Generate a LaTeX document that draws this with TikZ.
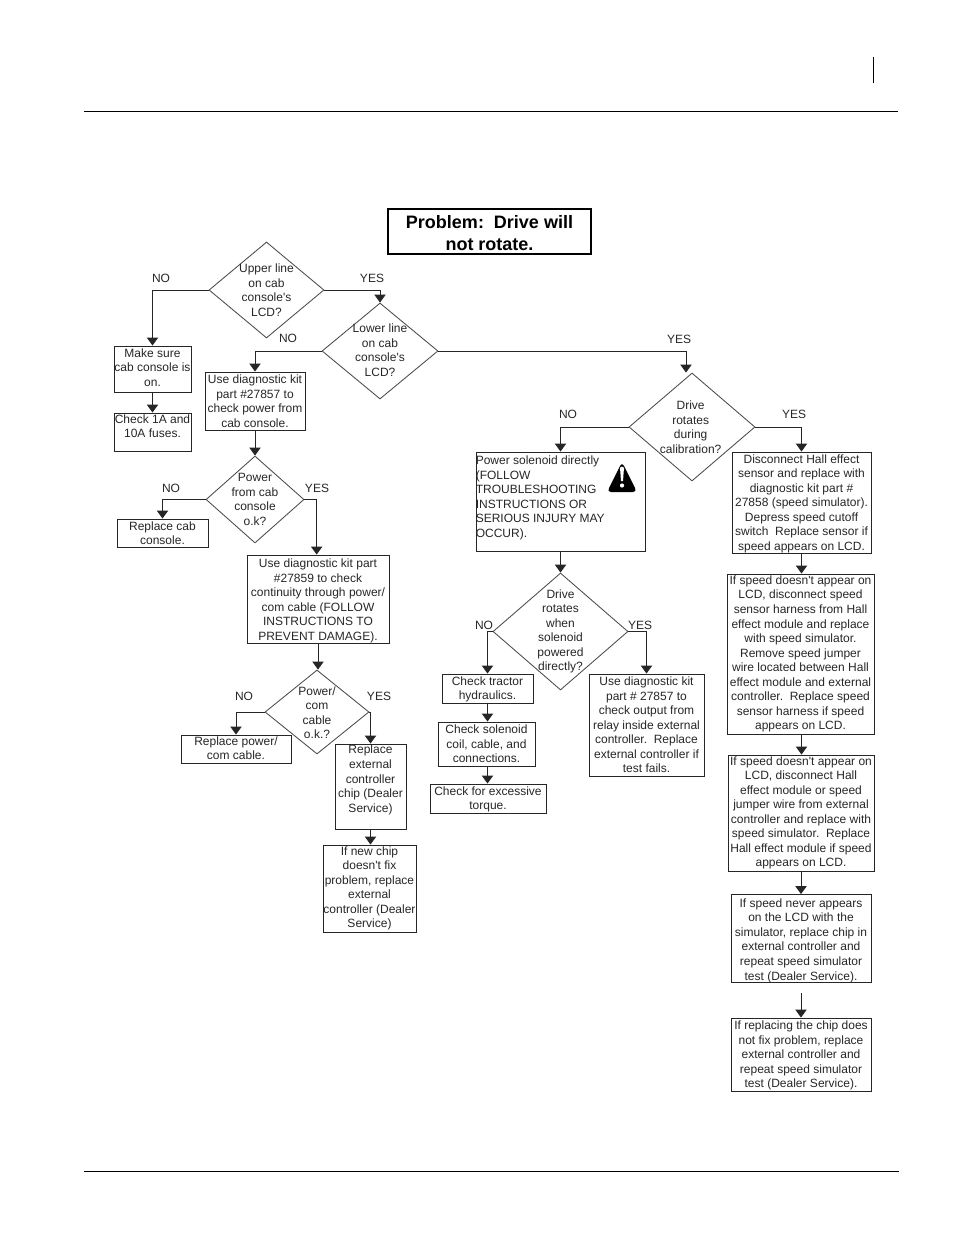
\documentclass[tikz,border=0pt]{standalone}
\usepackage{fontspec}
\defaultfontfeatures[\rmfamily]{}
\setmainfont{Liberation Sans}
\usetikzlibrary{shapes.geometric, arrows.meta}

\begin{document}
\begin{tikzpicture}[
    x=0.75pt, y=-0.75pt,
    txt/.style={font=\fontsize{9}{10.9}\selectfont, align=center, inner sep=0pt, text=black!85},
    size/.style 2 args={minimum width=#1*0.75pt, minimum height=#2*0.75pt},
    block/.style={rectangle, draw=black!85, line width=0.7pt, inner sep=0pt, txt},
    decision/.style={diamond, draw=black!70, line width=0.65pt, inner sep=0pt},
    answer/.style={txt},
    down/.style={execute at begin node={\rule{0pt}{#1pt}}},
    up/.style={execute at end node={\rule[-#1pt]{0pt}{#1pt}}},
    arrow/.style={-{Triangle[width=8.5pt,length=6pt]}, draw=black!85, line width=0.75pt}
]
    \useasboundingbox (0,0) rectangle (954,1235);

    % Page rules
    \coordinate (headl) at (84,111);
    \coordinate (headr) at (898,111);
    \coordinate (footl) at (84,1171);
    \coordinate (footr) at (899,1171);
    \coordinate (tickt) at (873,57);
    \coordinate (tickb) at (873,83);
    \draw[line width=0.7pt] (headl) -- (headr);
    \draw[line width=0.7pt] (footl) -- (footr);
    \draw[line width=0.7pt] (tickt) -- (tickb);

    % Title
    \node[rectangle, draw, line width=2.2pt, size={203}{45}, align=center, inner sep=0pt, down=28,
          font=\fontsize{13.5}{16.2}\selectfont\bfseries] (title) at (489.5,231.5) {Problem:\ \ Drive will\\not rotate.};

    % Left branch
    \node[decision, size={115}{96}, label={[txt]center:Upper line\\on cab\\console's\\LCD?}] (upper) at (266.5,290) {};
    \node[decision, size={116}{96}, label={[txt, yshift=0.5pt]center:Lower line\\on cab\\console's\\LCD?}] (lower) at (380,351) {};
    \node[block, size={77}{46}, up=2.3] (sure) at (152.5,369) {Make sure\\cab console is\\on.};
    \node[block, size={77}{38}, label={[txt, anchor=north, yshift=-1.2pt]north:Check 1A and\\10A fuses.}] (fuses) at (152.5,432) {};
    \node[block, size={100}{58}] (kit_cab) at (255,401) {Use diagnostic kit\\part \#27857 to\\check power from\\cab console.};
    \node[decision, size={98}{87}, label={[txt]center:Power\\from cab\\console\\o.k?}] (power_cab) at (255,499.5) {};
    \node[block, size={91}{28}] (replace_cab) at (162.5,533) {Replace cab\\console.};
    \node[block, size={142}{86}, down=64.1] (kit_cable) at (318,599) {Use diagnostic kit part\\\#27859 to check\\continuity through power/\\com cable (FOLLOW\\INSTRUCTIONS TO\\PREVENT DAMAGE).};
    \node[decision, size={104}{84}, label={[txt, yshift=-0.5pt]center:Power/\\com\\cable\\o.k.?}] (power_com) at (317,712) {};
    \node[block, size={110}{28}, up=1.5] (replace_cable) at (236,749) {Replace power/\\com cable.};
    \node[block, size={71}{85}, up=11.7] (chip) at (370.5,786.5) {Replace\\external\\controller\\chip (Dealer\\Service)};
    \node[block, size={93}{87}] (new_chip) at (369.5,888.5) {If new chip\\doesn't fix\\problem, replace\\external\\controller (Dealer\\Service)};

    % Middle branch
    \node[decision, size={126}{108}, label={[txt, xshift=-1pt]center:Drive\\rotates\\during\\calibration?}] (calib) at (692,427) {};
    \node[block, size={169}{99}, label={[txt, anchor=north west, align=left, yshift=-3pt]north west:Power solenoid directly\\(FOLLOW\\TROUBLESHOOTING\\INSTRUCTIONS OR\\SERIOUS INJURY MAY\\OCCUR).}] (solenoid) at (560.5,501.5) {};
    \node[decision, size={135}{117}, label={[txt]center:Drive\\rotates\\when\\solenoid\\powered\\directly?}] (powered) at (560.5,631.5) {};
    \node[block, size={91}{29}, down=19] (tractor) at (487.5,688.5) {Check tractor\\hydraulics.};
    \node[block, size={97}{44}] (coil) at (486.5,744) {Check solenoid\\coil, cable, and\\connections.};
    \node[block, size={116}{29}, down=19] (torque) at (488,798.5) {Check for excessive\\torque.};
    \node[block, size={115}{102}] (relay) at (646.5,725) {Use diagnostic kit\\part \# 27857 to\\check output from\\relay inside external\\controller.\ \ Replace\\external controller if\\test fails.};

    % Warning sign
    \fill[black, rounded corners=3pt] (622,462) -- (637,492) -- (607,492) -- cycle;
    \fill[white] (622,469) ellipse (2.2 and 2.4);
    \fill[white] (620.1,469) -- (623.9,469) -- (623,481) -- (621,481) -- cycle;
    \fill[white] (622,485.5) circle (2.1);

    % Right branch
    \node[block, size={139}{101}, down=73.5] (hall) at (801.5,502.5) {Disconnect Hall effect\\sensor and replace with\\diagnostic kit part \#\\27858 (speed simulator).\\Depress speed cutoff\\switch\ \ Replace sensor if\\speed appears on LCD.};
    \node[block, size={147}{160}] (harness) at (800.5,654) {If speed doesn't appear on\\LCD, disconnect speed\\sensor harness from Hall\\effect module and replace\\with speed simulator.\\Remove speed jumper\\wire located between Hall\\effect module and external\\controller.\ \ Replace speed\\sensor harness if speed\\appears on LCD.};
    \node[block, size={146}{116}] (module) at (801,813) {If speed doesn't appear on\\LCD, disconnect Hall\\effect module or speed\\jumper wire from external\\controller and replace with\\speed simulator.\ \ Replace\\Hall effect module if speed\\appears on LCD.};
    \node[block, size={140}{87}, down=64.1] (never) at (801,938.5) {If speed never appears\\on the LCD with the\\simulator, replace chip in\\external controller and\\repeat speed simulator\\test (Dealer Service).};
    \node[block, size={140}{73}, down=51.7] (last) at (801,1054.5) {If replacing the chip does\\not fix problem, replace\\external controller and\\repeat speed simulator\\test (Dealer Service).};
    \coordinate (gap) at (801,993);

    % Answers
    \node[answer] (no_upper) at (161,278) {NO};
    \node[answer] (yes_upper) at (372,278) {YES};
    \node[answer] (no_lower) at (288,338) {NO};
    \node[answer] (yes_lower) at (679,339) {YES};
    \node[answer] (no_cab) at (171,488) {NO};
    \node[answer] (yes_cab) at (317,488) {YES};
    \node[answer] (no_com) at (244,696) {NO};
    \node[answer] (yes_com) at (379,696) {YES};
    \node[answer] (no_calib) at (568,414) {NO};
    \node[answer] (yes_calib) at (794,414) {YES};
    \node[answer] (no_powered) at (484,625) {NO};
    \node[answer] (yes_powered) at (640,625) {YES};

    % Arrows
    \draw[arrow] (upper.west) -| (sure.north);
    \draw[arrow] (upper.east) -| (lower.north);
    \draw[arrow] (sure) -- (fuses);
    \draw[arrow] (lower.west) -| (kit_cab.north);
    \draw[arrow] (lower.east) -| ([xshift=-4.5pt]calib.north);
    \draw[arrow] (kit_cab) -- (power_cab);
    \draw[arrow] (power_cab.west) -| (replace_cab.north);
    \draw[arrow] (power_cab.east) -| ([xshift=-1pt]kit_cable.north);
    \draw[arrow] (kit_cable) -- (kit_cable |- power_com.north);
    \draw[arrow] (power_com.west) -| (replace_cable.north);
    \draw[arrow] (power_com.east) -| (chip.north);
    \draw[arrow] (chip.south) -- (chip.south |- new_chip.north);
    \draw[arrow] (calib.west) -| (solenoid.north);
    \draw[arrow] (calib.east) -| (hall.north);
    \draw[arrow] (solenoid) -- (powered);
    \draw[arrow] (powered.west) -| (tractor.north);
    \draw[arrow] (powered.east) -| (relay.north);
    \draw[arrow] (tractor.south) -- (tractor.south |- coil.north);
    \draw[arrow] (coil.south -| tractor.south) -- (tractor.south |- torque.north);
    \draw[arrow] (hall.south) -- (hall.south |- harness.north);
    \draw[arrow] (harness.south -| hall.south) -- (hall.south |- module.north);
    \draw[arrow] (module.south) -- (module.south |- never.north);
    \draw[arrow] (gap) -- (last.north);
\end{tikzpicture}
\end{document}
